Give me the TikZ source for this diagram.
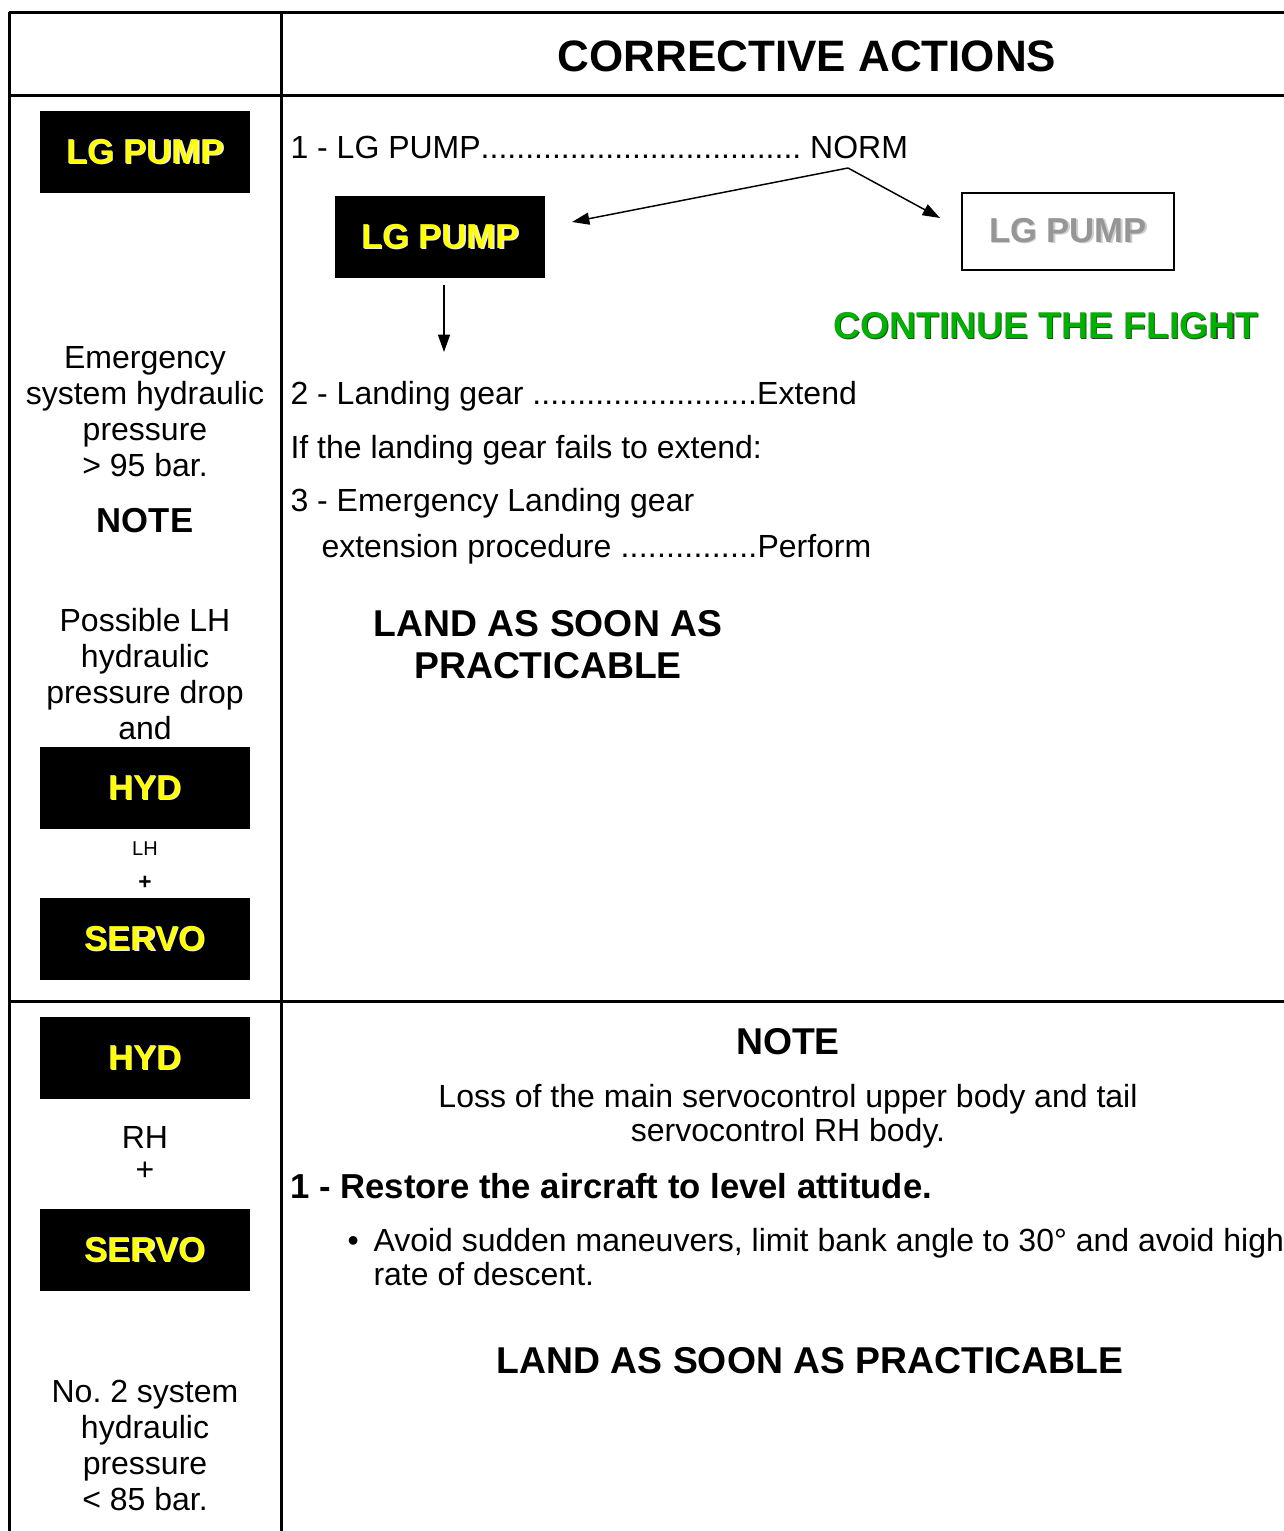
\documentclass[tikz,border=0pt]{standalone}
\usepackage{fontspec}
\setmainfont{Liberation Sans}
\usetikzlibrary{arrows.meta}
\frenchspacing

\definecolor{annunYellow}{RGB}{255,255,0}
\definecolor{annunGlow}{RGB}{235,235,235}
\definecolor{offGray}{RGB}{150,150,150}
\definecolor{offGlow}{RGB}{205,205,205}
\definecolor{flightGreen}{RGB}{0,178,0}
\definecolor{flightShade}{RGB}{60,60,60}

\newcommand{\bodysize}{\fontsize{24}{27}\selectfont}
\newcommand{\shadowed}[3]{\makebox[0pt][l]{\kern0.9pt\raisebox{-0.9pt}{\color{#1}#3}}{\color{#2}#3}}
\newcommand{\dotlead}[2]{\makebox[#1][l]{#2\xleaders\hbox{.}\hfill}}

\tikzset{every picture/.style={line width=0.75pt}}
\tikzset{
  grid/.style={line width=2.25pt},
  txt/.style={inner sep=0pt, anchor=base west, font=\bodysize},
  ctxt/.style={inner sep=0pt, anchor=base, align=center, font=\bodysize},
  bigbold/.style={inner sep=0pt, anchor=base, align=center, font=\bfseries\fontsize{28}{31}\selectfont},
  annun/.style={fill=black, inner sep=0pt, minimum width=157.5pt, minimum height=61.5pt,
    font=\bfseries\fontsize{26}{30}\selectfont},
  offbox/.style={draw, line width=1.5pt, fill=white, inner sep=0pt, minimum width=159pt,
    minimum height=57.75pt, font=\bfseries\fontsize{26}{30}\selectfont},
  flow/.style={line width=1.1pt, -{Triangle[length=13pt,width=9pt]}}
}

\begin{document}
\begin{tikzpicture}[x=0.75pt,y=0.75pt,yscale=-1,xscale=1]
\useasboundingbox (0,0) rectangle (1283,1531);

%Table grid
\draw [grid] (9,12) -- (1290,12) ;
\draw [grid] (9,95) -- (1290,95) ;
\draw [grid] (9,1001) -- (1290,1001) ;
\draw [grid] (9,12) -- (9,1540) ;
\draw [grid] (281,12) -- (281,1540) ;

% Text Node
\node [bigbold, font=\bfseries\fontsize{33}{38}\selectfont] (header) at (807,71) {CORRECTIVE ACTIONS};

%Left column, LG PUMP row
\node [annun] (pumpWarn) at (145,152) {\shadowed{annunGlow}{annunYellow}{LG PUMP}};
% Text Node (base = last line)
\node [ctxt] (emergText) at (145,476) {Emergency\\system hydraulic\\pressure\\> 95 bar.};
% Text Node
\node [bigbold, font=\bfseries\fontsize{26}{30}\selectfont] (noteLeft) at (145,532) {NOTE};
% Text Node
\node [ctxt] (possibleText) at (145,739) {Possible LH\\hydraulic\\pressure drop\\and};
\node [annun] (hydLeft) at (145,788) {\shadowed{annunGlow}{annunYellow}{HYD}};
% Text Node
\node [ctxt, font=\fontsize{15}{18}\selectfont] (lhTag) at (145,855) {LH};
% Text Node
\node [ctxt, font=\bfseries\fontsize{17}{18}\selectfont] (plusLeft) at (145,889) {+};
\node [annun] (servoLeft) at (145,939) {\shadowed{annunGlow}{annunYellow}{SERVO}};

%Right column, LG PUMP row
% Text Node
\node [txt] (stepOne) at (290,158) {\dotlead{383pt}{1 - LG PUMP}\ NORM};
\node [annun] (pumpOn) at (440,237) {\shadowed{annunGlow}{annunYellow}{LG PUMP}};
\node [offbox] (pumpOff) at (1068,231) {\shadowed{offGlow}{offGray}{LG PUMP}};
\coordinate (fork) at (848,168);
\coordinate (onTip) at (572,222);
\coordinate (offTip) at (940,218);
\coordinate (downTip) at (444,352);
\draw [flow] (fork) -- (onTip) ;
\draw [flow] (fork) -- (offTip) ;
\draw [flow] (pumpOn.south -| downTip) ++(0,6) -- (downTip) ;
% Text Node
\node [bigbold] (contFlight) at (1046,338) {\shadowed{flightShade}{flightGreen}{CONTINUE THE FLIGHT}};
% Text Node
\node [txt] (stepTwo) at (290,404) {\dotlead{350pt}{2 - Landing gear }Extend};
% Text Node
\node [txt] (ifFail) at (290,458) {If the landing gear fails to extend:};
% Text Node
\node [txt] (stepThree) at (290,511) {3 - Emergency Landing gear};
% Text Node
\node [txt] (stepThreeB) at (321,557) {\dotlead{327pt}{extension procedure }Perform};
% Text Node
\node [bigbold] (landFirst) at (548,678) {LAND AS SOON AS\\PRACTICABLE};

%Left column, HYD RH row
\node [annun] (hydRight) at (145,1058) {\shadowed{annunGlow}{annunYellow}{HYD}};
% Text Node
\node [ctxt] (rhTag) at (145,1148) {RH};
% Text Node
\node [ctxt] (plusRight) at (145,1180) {+};
\node [annun] (servoRight) at (145,1250) {\shadowed{annunGlow}{annunYellow}{SERVO}};
% Text Node
\node [ctxt] (noTwoText) at (145,1510) {No. 2 system\\hydraulic\\pressure\\< 85 bar.};

%Right column, HYD RH row
% Text Node
\node [bigbold] (noteRight) at (788,1054) {NOTE};
% Text Node
\node [ctxt, font=\fontsize{24}{25}\selectfont] (lossText) at (788,1141) {Loss of the main servocontrol upper body and tail\\servocontrol RH body.};
% Text Node
\node [txt, font=\bfseries\fontsize{26}{30}\selectfont] (restore) at (290,1198) {1 - Restore the aircraft to level attitude.};
% Text Node
\node [txt] (bulletMark) at (347,1251) {\textbullet};
% Text Node
\node [txt, align=left, font=\fontsize{24}{25.5}\selectfont] (avoidText) at (373,1285) {Avoid sudden maneuvers, limit bank angle to 30° and avoid high\\rate of descent.};
% Text Node
\node [bigbold] (landSecond) at (810,1373) {LAND AS SOON AS PRACTICABLE};

\end{tikzpicture}
\end{document}
